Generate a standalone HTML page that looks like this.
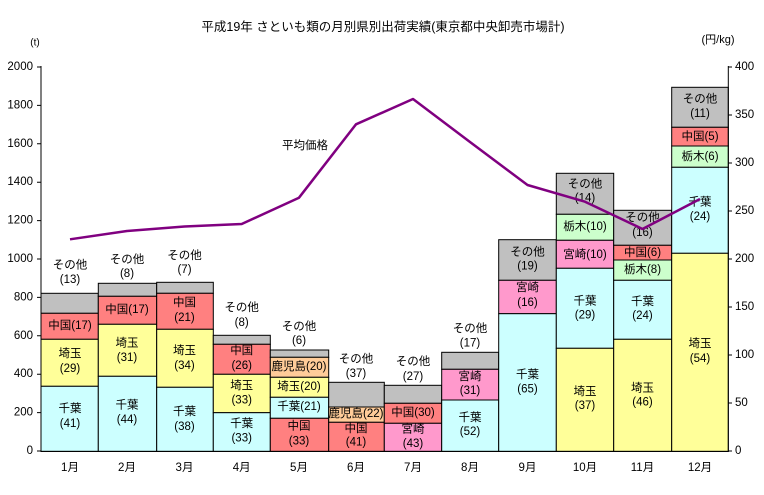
<!DOCTYPE html>
<html><head><meta charset="utf-8"><style>
html,body{margin:0;padding:0;background:#fff;}
svg text{font-family:"Liberation Sans","Noto Sans CJK JP",sans-serif;font-size:11.5px;fill:#000;}
</style></head><body>
<svg width="764" height="490" viewBox="0 0 764 490" xmlns="http://www.w3.org/2000/svg">
<text x="383" y="27" text-anchor="middle" dominant-baseline="central" style="font-size:12.5px">平成19年 さといも類の月別県別出荷実績(東京都中央卸売市場計)</text>
<text x="35" y="43" text-anchor="middle" dominant-baseline="central" style="font-size:10px">(t)</text>
<text x="718" y="40" text-anchor="middle" dominant-baseline="central" style="font-size:11px">(円/kg)</text>
<g stroke="#000" stroke-width="1">
<!-- Jan -->
<rect x="41" y="293.3" width="57.3" height="20" fill="#C0C0C0"/>
<rect x="41" y="313.3" width="57.3" height="26" fill="#FF8080"/>
<rect x="41" y="339.3" width="57.3" height="47" fill="#FFFF99"/>
<rect x="41" y="386.3" width="57.3" height="65" fill="#CCFFFF"/>
<!-- Feb -->
<rect x="98.3" y="283.3" width="58.4" height="13" fill="#C0C0C0"/>
<rect x="98.3" y="296.3" width="58.4" height="28" fill="#FF8080"/>
<rect x="98.3" y="324.3" width="58.4" height="52" fill="#FFFF99"/>
<rect x="98.3" y="376.3" width="58.4" height="75" fill="#CCFFFF"/>
<!-- Mar -->
<rect x="156.7" y="282.3" width="56.6" height="11" fill="#C0C0C0"/>
<rect x="156.7" y="293.3" width="56.6" height="36" fill="#FF8080"/>
<rect x="156.7" y="329.3" width="56.6" height="58" fill="#FFFF99"/>
<rect x="156.7" y="387.3" width="56.6" height="64" fill="#CCFFFF"/>
<!-- Apr -->
<rect x="213.3" y="335.3" width="57" height="9" fill="#C0C0C0"/>
<rect x="213.3" y="344.3" width="57" height="30" fill="#FF8080"/>
<rect x="213.3" y="374.3" width="57" height="38.4" fill="#FFFF99"/>
<rect x="213.3" y="412.7" width="57" height="38.6" fill="#CCFFFF"/>
<!-- May -->
<rect x="270.3" y="350" width="58.4" height="7.3" fill="#C0C0C0"/>
<rect x="270.3" y="357.3" width="58.4" height="20" fill="#FFCC99"/>
<rect x="270.3" y="377.3" width="58.4" height="20" fill="#FFFF99"/>
<rect x="270.3" y="397.3" width="58.4" height="21" fill="#CCFFFF"/>
<rect x="270.3" y="418.3" width="58.4" height="33" fill="#FF8080"/>
<!-- Jun -->
<rect x="328.7" y="382.3" width="55.6" height="24.7" fill="#C0C0C0"/>
<rect x="328.7" y="407" width="55.6" height="15.3" fill="#FFCC99"/>
<rect x="328.7" y="422.3" width="55.6" height="29" fill="#FF8080"/>
<!-- Jul -->
<rect x="384.3" y="385.3" width="57.4" height="18" fill="#C0C0C0"/>
<rect x="384.3" y="403.3" width="57.4" height="20" fill="#FF8080"/>
<rect x="384.3" y="423.3" width="57.4" height="28" fill="#FF99CC"/>
<!-- Aug -->
<rect x="441.7" y="352.3" width="57" height="17" fill="#C0C0C0"/>
<rect x="441.7" y="369.3" width="57" height="30.7" fill="#FF99CC"/>
<rect x="441.7" y="400" width="57" height="51.3" fill="#CCFFFF"/>
<!-- Sep -->
<rect x="498.7" y="239.7" width="57.6" height="40.6" fill="#C0C0C0"/>
<rect x="498.7" y="280.3" width="57.6" height="33.4" fill="#FF99CC"/>
<rect x="498.7" y="313.7" width="57.6" height="137.6" fill="#CCFFFF"/>
<!-- Oct -->
<rect x="556.3" y="173.3" width="57.4" height="41" fill="#C0C0C0"/>
<rect x="556.3" y="214.3" width="57.4" height="26" fill="#CCFFCC"/>
<rect x="556.3" y="240.3" width="57.4" height="28" fill="#FF99CC"/>
<rect x="556.3" y="268.3" width="57.4" height="80" fill="#CCFFFF"/>
<rect x="556.3" y="348.3" width="57.4" height="103" fill="#FFFF99"/>
<!-- Nov -->
<rect x="613.7" y="210.3" width="58" height="35" fill="#C0C0C0"/>
<rect x="613.7" y="245.3" width="58" height="14.7" fill="#FF8080"/>
<rect x="613.7" y="260" width="58" height="20.3" fill="#CCFFCC"/>
<rect x="613.7" y="280.3" width="58" height="59" fill="#CCFFFF"/>
<rect x="613.7" y="339.3" width="58" height="112" fill="#FFFF99"/>
<!-- Dec -->
<rect x="671.7" y="87.3" width="56.6" height="40" fill="#C0C0C0"/>
<rect x="671.7" y="127.3" width="56.6" height="18.7" fill="#FF8080"/>
<rect x="671.7" y="146" width="56.6" height="21.3" fill="#CCFFCC"/>
<rect x="671.7" y="167.3" width="56.6" height="86" fill="#CCFFFF"/>
<rect x="671.7" y="253.3" width="56.6" height="198" fill="#FFFF99"/>
</g>
<!-- axes -->
<g stroke="#000" stroke-width="1" fill="none">
<path d="M41 66V451.5H728.3V66"/>
<path d="M37 67H41M37 105.4H41M37 143.8H41M37 182.2H41M37 220.6H41M37 259H41M37 297.4H41M37 335.8H41M37 374.2H41M37 412.6H41M37 451H41"/>
<path d="M728 67H732M728 115H732M728 163H732M728 211H732M728 259H732M728 307H732M728 355H732M728 403H732M728 451H732"/>
</g>
<g text-anchor="end" dominant-baseline="central" style="font-size:11px">
<text x="33" y="67">2000</text><text x="33" y="105.4">1800</text><text x="33" y="143.8">1600</text><text x="33" y="182.2">1400</text><text x="33" y="220.6">1200</text><text x="33" y="259">1000</text><text x="33" y="297.4">800</text><text x="33" y="335.8">600</text><text x="33" y="374.2">400</text><text x="33" y="412.6">200</text><text x="33" y="451">0</text>
</g>
<g text-anchor="start" dominant-baseline="central" style="font-size:11px">
<text x="735" y="67">400</text><text x="735" y="115">350</text><text x="735" y="163">300</text><text x="735" y="211">250</text><text x="735" y="259">200</text><text x="735" y="307">150</text><text x="735" y="355">100</text><text x="735" y="403">50</text><text x="735" y="451">0</text>
</g>
<g text-anchor="middle" dominant-baseline="central">
<text x="70" y="468">1月</text><text x="127" y="468">2月</text><text x="184.5" y="468">3月</text><text x="241.7" y="468">4月</text><text x="299" y="468">5月</text><text x="356" y="468">6月</text><text x="413" y="468">7月</text><text x="470" y="468">8月</text><text x="527.5" y="468">9月</text><text x="585" y="468">10月</text><text x="642.5" y="468">11月</text><text x="700" y="468">12月</text>
<!-- Jan -->
<text x="70" y="265.7">その他</text><text x="70" y="280">(13)</text><text x="70" y="326">中国(17)</text><text x="70" y="354">埼玉</text><text x="70" y="369">(29)</text><text x="70" y="409">千葉</text><text x="70" y="424">(41)</text>
<text x="127" y="260">その他</text><text x="127" y="274">(8)</text><text x="127" y="310">中国(17)</text><text x="127" y="343.7">埼玉</text><text x="127" y="358">(31)</text><text x="127" y="405.7">千葉</text><text x="127" y="420">(44)</text>
<text x="184.5" y="256">その他</text><text x="184.5" y="270">(7)</text><text x="184.5" y="303">中国</text><text x="184.5" y="318">(21)</text><text x="184.5" y="351">埼玉</text><text x="184.5" y="366">(34)</text><text x="184.5" y="412">千葉</text><text x="184.5" y="427">(38)</text>
<text x="241.7" y="308">その他</text><text x="241.7" y="323">(8)</text><text x="241.7" y="351">中国</text><text x="241.7" y="366">(26)</text><text x="241.7" y="386">埼玉</text><text x="241.7" y="400.7">(33)</text><text x="241.7" y="424">千葉</text><text x="241.7" y="438.7">(33)</text>
<text x="299" y="327">その他</text><text x="299" y="341">(6)</text><text x="299" y="367">鹿児島(20)</text><text x="299" y="387">埼玉(20)</text><text x="299" y="407">千葉(21)</text><text x="299" y="426.7">中国</text><text x="299" y="441.7">(33)</text>
<text x="356" y="359.7">その他</text><text x="356" y="374">(37)</text><text x="356" y="414">鹿児島(22)</text><text x="356" y="429">中国</text><text x="356" y="442.7">(41)</text>
<text x="413" y="362">その他</text><text x="413" y="377">(27)</text><text x="413" y="413">中国(30)</text><text x="413" y="429.7">宮崎</text><text x="413" y="444">(43)</text>
<text x="470" y="329">その他</text><text x="470" y="343.3">(17)</text><text x="470" y="377">宮崎</text><text x="470" y="391">(31)</text><text x="470" y="418">千葉</text><text x="470" y="432">(52)</text>
<text x="527.5" y="252.7">その他</text><text x="527.5" y="266.7">(19)</text><text x="527.5" y="288">宮崎</text><text x="527.5" y="303">(16)</text><text x="527.5" y="375">千葉</text><text x="527.5" y="389.7">(65)</text>
<text x="585" y="184.7">その他</text><text x="585" y="198.7">(14)</text><text x="585" y="227">栃木(10)</text><text x="585" y="255">宮崎(10)</text><text x="585" y="301.3">千葉</text><text x="585" y="315.3">(29)</text><text x="585" y="392">埼玉</text><text x="585" y="406">(37)</text>
<text x="642.5" y="218">その他</text><text x="642.5" y="233">(16)</text><text x="642.5" y="253">中国(6)</text><text x="642.5" y="270">栃木(8)</text><text x="642.5" y="302">千葉</text><text x="642.5" y="316">(24)</text><text x="642.5" y="388.7">埼玉</text><text x="642.5" y="402.7">(46)</text>
<text x="700" y="99.7">その他</text><text x="700" y="114">(11)</text><text x="700" y="137">中国(5)</text><text x="700" y="157">栃木(6)</text><text x="700" y="202.7">千葉</text><text x="700" y="217">(24)</text><text x="700" y="344">埼玉</text><text x="700" y="359">(54)</text>
<text x="305" y="146">平均価格</text>
</g>
<polyline fill="none" stroke="#800080" stroke-width="2.5" stroke-linejoin="round" points="70,239.3 127,231 184.5,226.5 241.7,224 299,197.7 356,124.3 413,99 470,142 527.5,185 585,201.7 642.5,229 700,199"/>
</svg>
</body></html>
